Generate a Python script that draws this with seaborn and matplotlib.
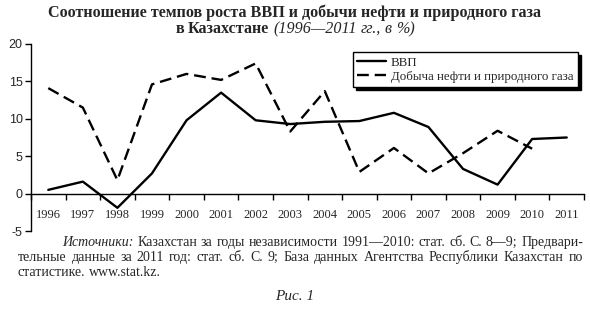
import matplotlib
matplotlib.use("Agg")
import matplotlib.pyplot as plt
import seaborn as sns
import pandas as pd
import numpy as np

years = list(range(1996, 2012))
gdp = [0.5, 1.6, -1.9, 2.7, 9.8, 13.5, 9.8, 9.3, 9.6, 9.7, 10.8, 8.9, 3.3, 1.2, 7.3, 7.5]
oil_years = list(range(1996, 2011))
oil = [14.1, 11.5, 1.8, 14.6, 16.0, 15.2, 17.4, 8.3, 13.7, 2.9, 6.1, 2.7, 5.4, 8.4, 6.0]
s_gdp = "ВВП"
s_oil = "Добыча нефти и природного газа"
yticks = [-5, 0, 5, 10, 15, 20]

df = pd.concat([
    pd.DataFrame({"year": years, "value": gdp, "series": s_gdp}),
    pd.DataFrame({"year": oil_years, "value": oil, "series": s_oil}),
])

sns.set_theme(style="white")
plt.rcParams["font.family"] = ["Liberation Serif", "DejaVu Serif"]

W, H = 590, 311
fig = plt.figure(figsize=(W / 100, H / 100), dpi=100)
ax = fig.add_axes([31 / W, 1 - 231 / H, 553 / W, 187 / H])

sns.lineplot(data=df, x="year", y="value", hue="series", style="series",
             palette={s_gdp: "black", s_oil: "black"},
             dashes={s_gdp: "", s_oil: (5, 2.5)}, linewidth=1.7, ax=ax,
             legend=False)

ax.set_xlim(years[0] - 0.5, years[-1] + 0.5)
ax.set_ylim(yticks[0], yticks[-1])
ax.set_xlabel("")
ax.set_ylabel("")

for sp in ["top", "right"]:
    ax.spines[sp].set_visible(False)
ax.spines["left"].set_color("black")
ax.spines["left"].set_linewidth(1.0)
ax.spines["bottom"].set_position(("data", 0))
ax.spines["bottom"].set_color("black")
ax.spines["bottom"].set_linewidth(1.0)

ax.set_yticks(yticks)
ax.set_yticklabels([str(v) for v in yticks], family="Liberation Sans", fontsize=9)
ax.tick_params(axis="y", direction="out", length=4, width=1, color="black", pad=2, left=True)

ax.set_xticks(years)
ax.set_xticklabels([str(y) for y in years], fontsize=9)
ax.set_xticks(np.arange(years[0] - 0.5, years[-1] + 1.0, 1.0), minor=True)
ax.tick_params(axis="x", which="major", length=0, pad=11, bottom=True)
ax.tick_params(axis="x", which="minor", direction="out", length=4, width=1,
               color="black", bottom=True)
ax.grid(False)

# legend with drop shadow
from matplotlib.lines import Line2D
handles = [Line2D([], [], color="black", lw=1.7),
           Line2D([], [], color="black", lw=1.7, dashes=(5, 2.5))]
leg = fig.legend(handles, [s_gdp, s_oil], loc="upper right",
                 bbox_to_anchor=(578 / W, 1 - 52 / H), frameon=True,
                 fancybox=False, shadow={"color": "black", "alpha": 1},
                 fontsize=9.3, handlelength=2.2, handletextpad=0.4,
                 borderpad=0.35, labelspacing=0.15, borderaxespad=0)
leg.get_frame().set_edgecolor("black")
leg.get_frame().set_linewidth(1.0)

# title
fig.text(0.5, 1 - 13 / H, "Соотношение темпов роста ВВП и добычи нефти и природного газа",
         ha="center", va="center", fontsize=11.6, fontweight="bold")

fig.canvas.draw()
r = fig.canvas.get_renderer()


def place_line(parts, x0, y, x1=None, size=10.0):
    """parts: list of (text, style, weight); y is the baseline in pixels from top."""
    objs = []
    for txt, st, wt in parts:
        t = fig.text(0, 1 - y / H, txt, fontsize=size, style=st, fontweight=wt,
                     ha="left", va="baseline")
        objs.append(t)
    widths = [t.get_window_extent(r).width for t in objs]
    a1 = fig.text(0, 0, "a a", fontsize=size)
    a2 = fig.text(0, 0, "aa", fontsize=size)
    sp_w = a1.get_window_extent(r).width - a2.get_window_extent(r).width
    a1.remove()
    a2.remove()
    total = sum(widths)
    n = len(objs)
    if x1 is not None and n > 1:
        gap = (x1 - x0 - total) / (n - 1)
    else:
        gap = sp_w
    if x0 is None:
        x0 = (W - (total + gap * (n - 1))) / 2
    x = x0
    for t, w in zip(objs, widths):
        t.set_x(x / W)
        x += w + gap


def words(s, st="normal", wt="normal"):
    return [(w, st, wt) for w in s.split(" ")]


# second title line: centered, mixed bold + italic
place_line(words("в Казахстане", wt="bold") + words("(1996—2011 гг., в %)", st="italic"),
           None, 33, size=11.6)

# sources
place_line(words("Источники:", st="italic") +
           words("Казахстан за годы независимости 1991—2010: стат. сб. С. 8—9; Предвари-"),
           62, 246, 583)
place_line(words("тельные данные за 2011 год: стат. сб. С. 9; База данных Агентства Республики Казахстан по"),
           18, 261, 583)
place_line(words("статистике. www.stat.kz."), 18, 276)
fig.text(0.5, 1 - 297 / H, "Рис. 1", ha="center", va="center", fontsize=11, style="italic")

fig.savefig("out.png", dpi=100)
